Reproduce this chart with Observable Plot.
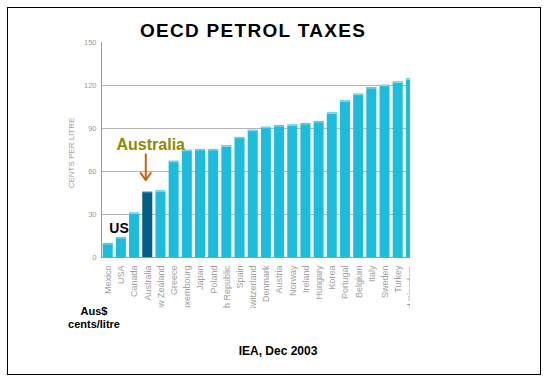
<!DOCTYPE html>
<html><head><meta charset="utf-8">
<script src="https://cdn.jsdelivr.net/npm/d3@7"></script>
<script src="https://cdn.jsdelivr.net/npm/@observablehq/plot@0.6"></script>
<style>
body{margin:0;background:#fff;}
#wrap{position:relative;width:548px;height:383px;overflow:hidden;font-family:"Liberation Sans",Arial,sans-serif;background:#fff;}
#chart{position:absolute;left:0;top:0;}
#border{position:absolute;left:7px;top:7px;width:534px;height:368px;border:1px solid #000;box-sizing:border-box;pointer-events:none;}
.t{position:absolute;white-space:nowrap;color:#000;font-weight:bold;transform:translateX(-50%);text-align:center;}
#title{left:253px;top:20.6px;font-size:19px;line-height:19px;letter-spacing:1.3px;}
#unit{left:94px;top:304.5px;font-size:11px;line-height:13.3px;}
#source{left:278px;top:344.8px;font-size:12px;line-height:12px;}
#ylab{position:absolute;left:72px;top:152.5px;white-space:nowrap;font-size:8px;line-height:8px;color:#a0a0a0;transform:translate(-50%,-50%) rotate(-90deg);}
</style></head><body>
<div id="wrap">
<div id="chart"></div>
<div class="t" id="title">OECD PETROL TAXES</div>
<div class="t" id="unit">Aus$<br>cents/litre</div>
<div class="t" id="source">IEA, Dec 2003</div>
<div id="ylab"></div>
<div id="border"></div>
</div>
<script>
const countries = ["Mexico","USA","Canada","Australia","New Zealand","Greece","Luxembourg","Japan","Poland","Czech Republic","Spain","Switzerland","Denmark","Austria","Norway","Ireland","Hungary","Korea","Portugal","Belgium","Italy","Sweden","Turkey","United Kingdom"];
const taxes = [9.8,14.0,31.1,45.6,46.5,67.2,74.9,75.4,75.4,77.9,83.8,88.8,90.9,92.1,92.5,93.5,94.9,100.9,109.3,114.0,118.6,120.2,122.5,124.6];
const highlight = "Australia";
const yTicks = [0,30,60,90,120,150];
const gridTicks = [30,60,90,120];
const yLabel = "CENTS PER LITRE";
const annotations = [
  {country:"Australia", value:75, text:"Australia"},
  {country:"USA", value:17.4, text:"US"}
];
const arrowData = [{country:"Australia", from:72.1, to:53.9}];

document.getElementById("ylab").textContent = yLabel;

const light = "#1cbddc", dark = "#035f85";
const bars = countries.map((c,i)=>({country:c, tax:taxes[i]}));

const chart = Plot.plot({
  width: 410, height: 308,
  marginLeft: 101, marginRight: 0, marginTop: 42, marginBottom: 51,
  style: {overflow:"hidden", background:"transparent", fontFamily:"'Liberation Sans', Arial, sans-serif"},
  x: {domain: countries, range:[101, 417.6], paddingInner:0.24, paddingOuter:0.13, round:false, label:null},
  y: {domain:[0,150], label:null},
  marks: [
    Plot.gridY(gridTicks, {stroke:"#b4b4b4", strokeOpacity:1}),
    Plot.barY(bars, {x:"country", y:"tax", fill: d => d.country===highlight ? dark : light}),
    Plot.tickY(bars, {x:"country", y:"tax", stroke: d => d.country===highlight ? "#3f86a4" : "#8fdcee", dy:0.5}),
    Plot.ruleY([0], {stroke:"#9a9a9a"}),
    Plot.frame({anchor:"left", stroke:"#9a9a9a"}),
    Plot.axisY(yTicks, {tickSize:0, tickPadding:5, fontSize:7.5, fill:"#9a9a9a", label:null}),
    Plot.axisX({tickRotate:-90, tickSize:0, tickPadding:8, fontSize:9, fill:"#a0a0a0", label:null}),
    Plot.arrow(arrowData, {x:"country", y1:"from", y2:"to", dx:-2, stroke:"#c8640e", strokeWidth:2, headLength:8, headAngle:70}),
    Plot.text(annotations.slice(0,1), {x:"country", y:"value", text:"text", lineAnchor:"bottom", dx:3, fontSize:16, fontWeight:"bold", fill:"#8b8b00"}),
    Plot.text(annotations.slice(1), {x:"country", y:"value", text:"text", lineAnchor:"bottom", dx:-2.4, fontSize:14, fontWeight:"bold", fill:"#000", letterSpacing:1})
  ]
});
document.getElementById("chart").appendChild(chart);
</script>
</body></html>
